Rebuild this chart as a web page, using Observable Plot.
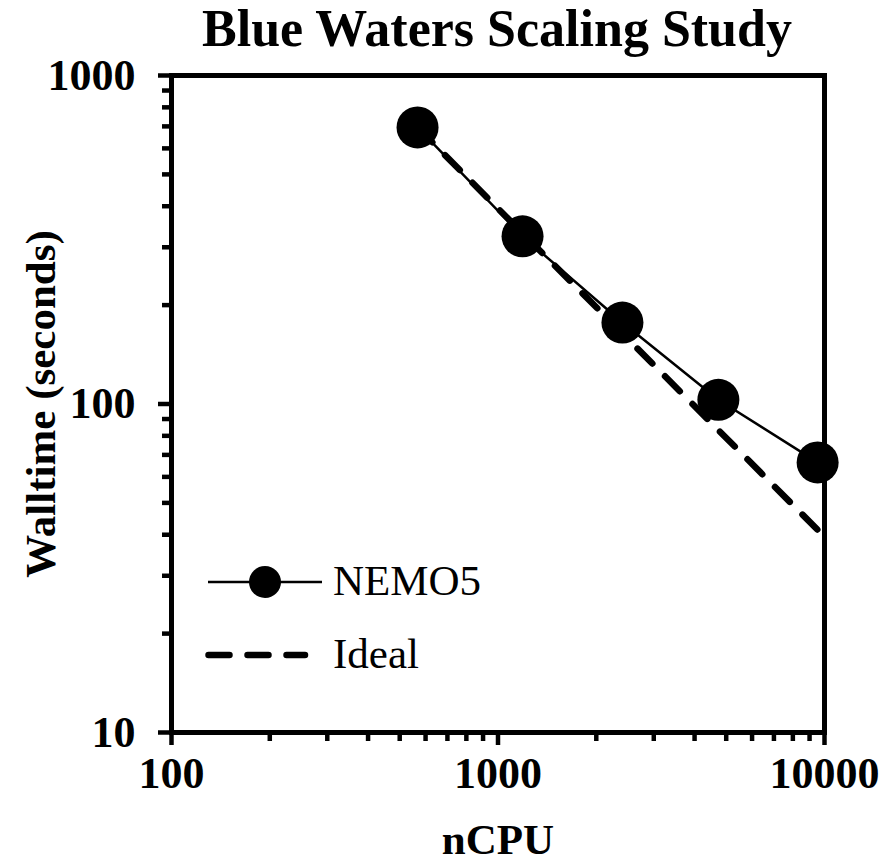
<!DOCTYPE html>
<html><head><meta charset="utf-8">
<script src="https://cdn.jsdelivr.net/npm/d3@7"></script>
<script src="https://cdn.jsdelivr.net/npm/@observablehq/plot@0.6"></script>
<style>
body{margin:0;background:#fff;}
#title{font-family:"Liberation Serif","Times New Roman",serif;font-weight:bold;font-size:52px;line-height:58px;height:50px;overflow:visible;width:884px;text-align:center;padding-left:110px;box-sizing:border-box;color:#000;white-space:nowrap;}
</style></head><body>
<div id="title">Blue Waters Scaling Study</div>
<div id="chart"></div>
<script>
// Data
const nCPU = [567, 1189, 2405, 4731, 9527];
const walltime = [695, 324, 177, 103, 66.4];
const ideal = [695, 331, 164, 83.3, 41.4];
const seriesNames = ["NEMO5", "Ideal"];
const xMajorTicks = [100, 1000, 10000];
const yMajorTicks = [10, 100, 1000];
const xMinorTicks = [200, 300, 400, 500, 600, 700, 800, 900, 2000, 3000, 4000, 5000, 6000, 7000, 8000, 9000];
const yMinorTicks = [20, 30, 40, 50, 60, 70, 80, 90, 200, 300, 400, 500, 600, 700, 800, 900];
const xLabel = "nCPU";
const yLabel = "Walltime (seconds)";

const nemo = nCPU.map((x, i) => ({x, y: walltime[i]}));
const idealRows = nCPU.map((x, i) => ({x, y: ideal[i]}));

const DASH = "21,18";
const DASH_W = 6.5;

function legendMark(index, scales, values, dims) {
  const g = d3.create("svg:g")
    .attr("transform", `translate(${dims.marginLeft},${dims.marginTop})`)
    .attr("text-anchor", "start");
  g.append("line").attr("x1", 37).attr("x2", 151).attr("y1", 507).attr("y2", 507)
    .attr("stroke", "black").attr("stroke-width", 2.5);
  g.append("circle").attr("cx", 94).attr("cy", 507).attr("r", 16).attr("fill", "black");
  g.append("text").attr("x", 162).attr("y", 520).attr("font-weight", "normal")
    .attr("text-anchor", "start").attr("font-size", 43).attr("fill", "black").text(seriesNames[0]);
  g.append("line").attr("x1", 37.5).attr("x2", 134).attr("y1", 580).attr("y2", 580)
    .attr("stroke", "black").attr("stroke-width", DASH_W).attr("stroke-dasharray", DASH)
    .attr("stroke-linecap", "round");
  g.append("text").attr("x", 162).attr("y", 593).attr("font-weight", "normal")
    .attr("text-anchor", "start").attr("font-size", 43).attr("fill", "black").text(seriesNames[1]);
  return g.node();
}

const chart = Plot.plot({
  width: 884,
  height: 814,
  marginTop: 25,
  marginBottom: 132,
  marginLeft: 171,
  marginRight: 60,
  style: {fontFamily: "'Liberation Serif','Times New Roman',serif", fontSize: "44px", fontWeight: "bold", color: "black", background: "white", overflow: "visible"},
  x: {type: "log", domain: [100, 10000]},
  y: {type: "log", domain: [10, 1000]},
  marks: [
    Plot.axisX(xMinorTicks, {tickSize: 9, strokeWidth: 4.5, tickFormat: () => "", label: null}),
    Plot.axisX(xMajorTicks, {tickSize: 13, tickPadding: 11, strokeWidth: 4.5, tickFormat: d => String(d), label: null}),
    Plot.axisY(yMinorTicks, {tickSize: 9, strokeWidth: 4.5, tickFormat: () => "", label: null}),
    Plot.axisY(yMajorTicks, {tickSize: 13, tickPadding: 23, strokeWidth: 4.5, tickFormat: d => String(d), label: null}),
    Plot.frame({stroke: "black", strokeWidth: 5}),
    Plot.line(idealRows, {x: "x", y: "y", stroke: "black", strokeWidth: DASH_W, strokeDasharray: DASH, strokeLinecap: "round"}),
    Plot.line(nemo, {x: "x", y: "y", stroke: "black", strokeWidth: 2.5}),
    Plot.dot(nemo, {x: "x", y: "y", r: 21, fill: "black"}),
    Plot.text([yLabel], {frameAnchor: "left", dx: -130, rotate: -90, textAnchor: "middle", lineAnchor: "middle", fontSize: 43}),
    Plot.text([xLabel], {frameAnchor: "bottom", dy: 108, lineAnchor: "middle", fontSize: 43}),
    legendMark
  ]
});
document.getElementById("chart").appendChild(chart);
</script>
</body></html>
